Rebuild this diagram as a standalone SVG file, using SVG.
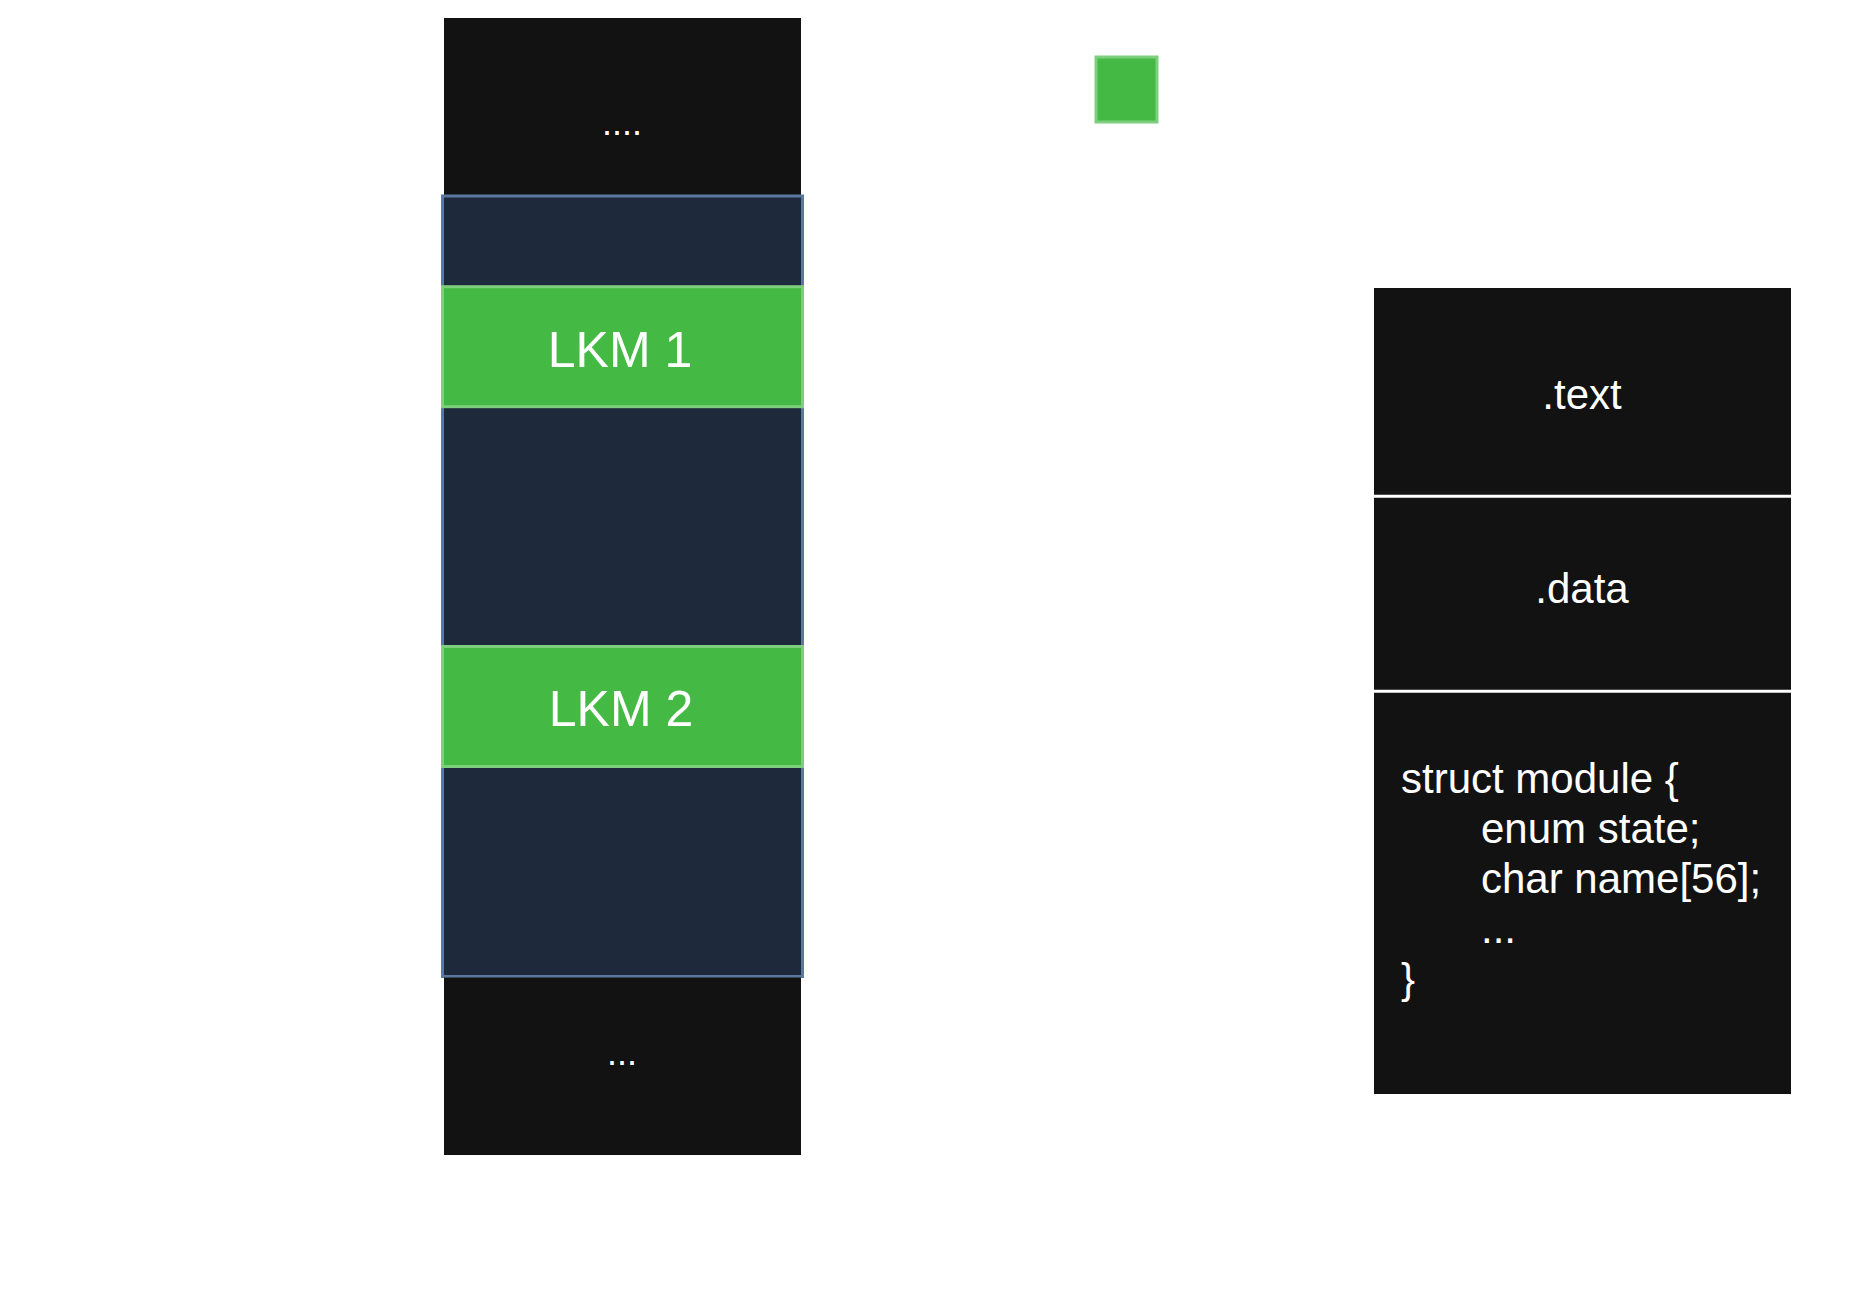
<svg xmlns="http://www.w3.org/2000/svg" width="1860" height="1299" viewBox="0 0 1860 1299">
<style>
.blk{fill:#121212}
.navy{fill:#1e293b;stroke:#5a78a0;stroke-width:3}
.grn{fill:#44b944;stroke:#7dcf7d;stroke-width:3}
.t{font-family:"Liberation Sans",Arial,sans-serif;fill:#ffffff}
.sep{stroke:#ffffff;stroke-width:3}
</style>
<rect width="1860" height="1299" fill="#ffffff"/>
<g id="top-block">
<rect class="blk" x="444" y="18" width="357" height="178"/>
<text class="t" x="622" y="135" font-size="36" text-anchor="middle">....</text>
</g>
<g id="module-area">
<rect class="navy" x="442.5" y="196" width="360" height="780.5"/>
</g>
<g id="lkm1">
<rect class="grn" x="442.5" y="286.7" width="360" height="120"/>
<text class="t" x="620" y="367" font-size="50" text-anchor="middle">LKM 1</text>
</g>
<g id="lkm2">
<rect class="grn" x="442.5" y="646.5" width="360" height="120"/>
<text class="t" x="621" y="726" font-size="50" text-anchor="middle">LKM 2</text>
</g>
<g id="bottom-block">
<rect class="blk" x="444" y="977.5" width="357" height="177.5"/>
<text class="t" x="622" y="1065" font-size="36" text-anchor="middle">...</text>
</g>
<g id="legend-square">
<rect class="grn" x="1096" y="57" width="61" height="65" stroke-width="2.5"/>
</g>
<g id="module-layout">
<rect class="blk" x="1374" y="288" width="417" height="806"/>
<line class="sep" x1="1374" y1="496.3" x2="1791" y2="496.3"/>
<line class="sep" x1="1374" y1="691.3" x2="1791" y2="691.3"/>
<text class="t" x="1582" y="408.5" font-size="42" text-anchor="middle">.text</text>
<text class="t" x="1582" y="603" font-size="42" text-anchor="middle">.data</text>
<text class="t" font-size="42">
<tspan x="1401" y="793">struct module {</tspan>
<tspan x="1481" y="843">enum state;</tspan>
<tspan x="1481" y="893">char name[56];</tspan>
<tspan x="1481" y="943">...</tspan>
<tspan x="1401" y="993">}</tspan>
</text>
</g>
<g id="connectors"></g>
</svg>
